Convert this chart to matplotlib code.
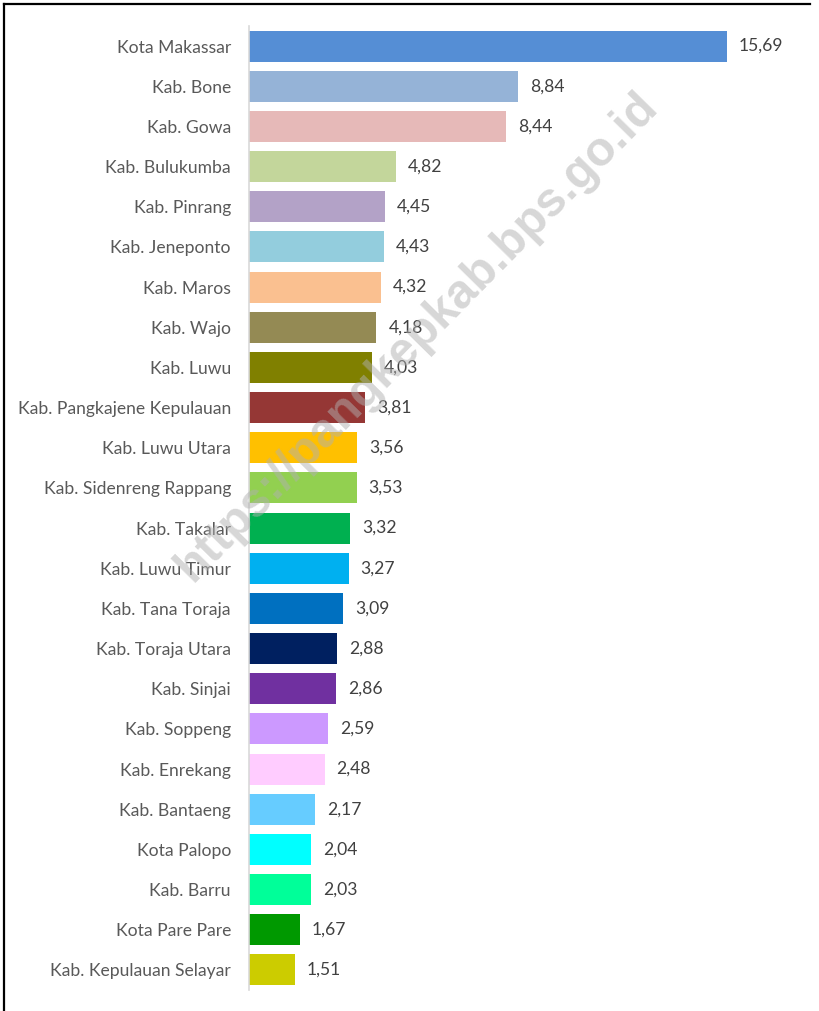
import matplotlib
matplotlib.use("Agg")
import matplotlib.pyplot as plt
from matplotlib.lines import Line2D

categories = ["Kota Makassar", "Kab. Bone", "Kab. Gowa", "Kab. Bulukumba", "Kab. Pinrang",
              "Kab. Jeneponto", "Kab. Maros", "Kab. Wajo", "Kab. Luwu",
              "Kab. Pangkajene Kepulauan", "Kab. Luwu Utara", "Kab. Sidenreng Rappang",
              "Kab. Takalar", "Kab. Luwu Timur", "Kab. Tana Toraja", "Kab. Toraja Utara",
              "Kab. Sinjai", "Kab. Soppeng", "Kab. Enrekang", "Kab. Bantaeng",
              "Kota Palopo", "Kab. Barru", "Kota Pare Pare", "Kab. Kepulauan Selayar"]
values = [15.69, 8.84, 8.44, 4.82, 4.45, 4.43, 4.32, 4.18, 4.03, 3.81, 3.56, 3.53,
          3.32, 3.27, 3.09, 2.88, 2.86, 2.59, 2.48, 2.17, 2.04, 2.03, 1.67, 1.51]
colors = ["#558ED5", "#95B3D7", "#E6B9B8", "#C3D69B", "#B3A2C7", "#93CDDD", "#FAC090",
          "#948A54", "#808000", "#953735", "#FFC000", "#92D050", "#00B050", "#00B0F0",
          "#0070C0", "#002060", "#7030A0", "#CC99FF", "#FFCCFF", "#66CCFF", "#00FFFF",
          "#00FF99", "#009900", "#CCCC00"]
watermark = "https://pangkepkab.bps.go.id"

W, H = 819, 1011
fig = plt.figure(figsize=(W / 100, H / 100), dpi=100)
ax = fig.add_axes([249 / W, (H - 990) / H, 551 / W, 964 / H])

y = list(range(len(categories)))
ax.barh(y, values, height=0.77, color=colors, zorder=2)
ax.set_ylim(len(categories) - 0.5, -0.5)
ax.set_xlim(0, 551 / 30.47)

font = "Lato"
for yi, v in zip(y, values):
    ax.annotate(f"{v:.2f}".replace(".", ","), xy=(v, yi), xytext=(12, 0),
                textcoords="offset pixels",
                va="center", ha="left", fontsize=12.6, color="#404040", family=font)

ax.set_yticks(y)
ax.set_yticklabels(categories, fontsize=12.6, color="#595959", family=font)
ax.tick_params(axis="y", length=0, pad=13)
ax.set_xticks([])
for s in ["top", "right", "bottom"]:
    ax.spines[s].set_visible(False)
ax.spines["left"].set_color("#d9d9d9")
ax.spines["left"].set_linewidth(1.2)

# outer frame (left and top)
fig.add_artist(Line2D([4 / W, 4 / W], [0, 1 - 4 / H], transform=fig.transFigure,
                      color="black", lw=1.6))
fig.add_artist(Line2D([4 / W, 810 / W], [1 - 4 / H, 1 - 4 / H], transform=fig.transFigure,
                      color="black", lw=1.6))

fig.text(417 / W, 1 - 337 / H, watermark, rotation=45.5, ha="center", va="center",
         fontsize=34.5, fontweight="bold", color="#b0b0b0", alpha=0.5,
         family="Liberation Sans", zorder=10, rotation_mode="anchor")

fig.savefig("out.png", dpi=100, facecolor="white")
